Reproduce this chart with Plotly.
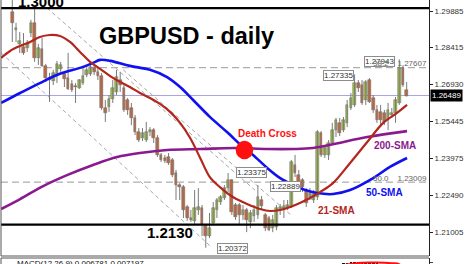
import plotly.graph_objects as go

# ---------------- data ----------------
opens = [1.2985, 1.2912, 1.2856, 1.2844, 1.2840, 1.2900, 1.2941, 1.2800, 1.2836, 1.2768,
         1.2719, 1.2707, 1.2727, 1.2756, 1.2736, 1.2719, 1.2695, 1.2687, 1.2679, 1.2699,
         1.2731, 1.2736, 1.2760, 1.2744, 1.2727, 1.2599, 1.2603, 1.2635, 1.2663, 1.2711,
         1.2679, 1.2631, 1.2599, 1.2559, 1.2502, 1.2478, 1.2470, 1.2502, 1.2510, 1.2478,
         1.2410, 1.2398, 1.2402, 1.2390, 1.2338, 1.2289, 1.2281, 1.2201, 1.2157, 1.2145,
         1.2189, 1.2197, 1.2124, 1.2084, 1.2137, 1.2189, 1.2221, 1.2237, 1.2277, 1.2309,
         1.2209, 1.2209, 1.2169, 1.2189, 1.2141, 1.2165, 1.2169, 1.2229, 1.2169, 1.2157,
         1.2116, 1.2120, 1.2189, 1.2197, 1.2201, 1.2201, 1.2370, 1.2329, 1.2309, 1.2269,
         1.2241, 1.2229, 1.2241, 1.2498, 1.2410, 1.2410, 1.2458, 1.2510, 1.2539, 1.2510,
         1.2539, 1.2599, 1.2611, 1.2699, 1.2691, 1.2631, 1.2711, 1.2639, 1.2591, 1.2583,
         1.2579, 1.2551, 1.2571, 1.2579, 1.2619, 1.2760, 1.2671]
highs = [1.3049, 1.2941, 1.2904, 1.2900, 1.2872, 1.2953, 1.3001, 1.2856, 1.2880, 1.2776,
         1.2740, 1.2752, 1.2788, 1.2784, 1.2744, 1.2820, 1.2711, 1.2699, 1.2715, 1.2760,
         1.2768, 1.2772, 1.2768, 1.2760, 1.2740, 1.2631, 1.2651, 1.2711, 1.2752, 1.2744,
         1.2691, 1.2639, 1.2619, 1.2571, 1.2518, 1.2518, 1.2543, 1.2522, 1.2518, 1.2490,
         1.2418, 1.2410, 1.2418, 1.2398, 1.2350, 1.2297, 1.2289, 1.2209, 1.2189, 1.2269,
         1.2277, 1.2209, 1.2133, 1.2177, 1.2221, 1.2237, 1.2249, 1.2289, 1.23375, 1.2312,
         1.2217, 1.2217, 1.2209, 1.2197, 1.2189, 1.2209, 1.22889, 1.2245, 1.2177, 1.2165,
         1.2169, 1.2209, 1.2213, 1.2229, 1.2229, 1.2390, 1.2410, 1.2350, 1.2317, 1.2277,
         1.2277, 1.2269, 1.2510, 1.2506, 1.2450, 1.2470, 1.2539, 1.2559, 1.2559, 1.2563,
         1.2631, 1.2659, 1.27335, 1.2711, 1.2711, 1.2711, 1.2719, 1.2651, 1.2611, 1.2611,
         1.2591, 1.2619, 1.2599, 1.2643, 1.27943, 1.2768, 1.2703]
lows = [1.2864, 1.2864, 1.2820, 1.2812, 1.2824, 1.2884, 1.2784, 1.2772, 1.2764, 1.2703,
        1.2623, 1.2691, 1.2699, 1.2744, 1.2683, 1.2671, 1.2663, 1.2619, 1.2675, 1.2691,
        1.2723, 1.2727, 1.2731, 1.2711, 1.2591, 1.2543, 1.2583, 1.2619, 1.2651, 1.2663,
        1.2583, 1.2571, 1.2530, 1.2490, 1.2462, 1.2466, 1.2462, 1.2486, 1.2458, 1.2402,
        1.2382, 1.2378, 1.2370, 1.2321, 1.2229, 1.2229, 1.2157, 1.2145, 1.2141, 1.2133,
        1.2169, 1.2084, 1.20372, 1.2076, 1.2128, 1.2157, 1.2209, 1.2229, 1.2261, 1.2169,
        1.2149, 1.2133, 1.2149, 1.2100, 1.2116, 1.2141, 1.2153, 1.2189, 1.2104, 1.2104,
        1.2100, 1.2108, 1.2169, 1.2157, 1.2189, 1.2197, 1.2321, 1.2269, 1.2261, 1.2201,
        1.2229, 1.2217, 1.2229, 1.2402, 1.2398, 1.2390, 1.2450, 1.2482, 1.2486, 1.2502,
        1.2522, 1.2591, 1.2603, 1.2663, 1.2611, 1.2611, 1.2619, 1.2579, 1.2539, 1.2522,
        1.2530, 1.2510, 1.2559, 1.2539, 1.2611, 1.2683, 1.2645]
closes = [1.2941, 1.2920, 1.2868, 1.2820, 1.2856, 1.2941, 1.2800, 1.2840, 1.2768, 1.2719,
          1.2711, 1.2740, 1.2776, 1.2772, 1.2715, 1.2675, 1.2671, 1.2683, 1.2711, 1.2727,
          1.2752, 1.2764, 1.2744, 1.2727, 1.2599, 1.2579, 1.2635, 1.2679, 1.2723, 1.2691,
          1.2591, 1.2591, 1.2559, 1.2502, 1.2470, 1.2498, 1.2502, 1.2510, 1.2478, 1.2410,
          1.2390, 1.2386, 1.2378, 1.2329, 1.2289, 1.2281, 1.2189, 1.2157, 1.2149, 1.2197,
          1.2201, 1.2128, 1.2084, 1.2116, 1.2197, 1.2229, 1.2241, 1.2277, 1.2309, 1.2181,
          1.2161, 1.2169, 1.2189, 1.2149, 1.2177, 1.2189, 1.2241, 1.2205, 1.2116, 1.2108,
          1.2149, 1.2197, 1.2201, 1.2205, 1.2209, 1.2382, 1.2338, 1.2297, 1.2281, 1.2217,
          1.2257, 1.2253, 1.2502, 1.2410, 1.2438, 1.2458, 1.2510, 1.2551, 1.2498, 1.2551,
          1.2611, 1.2639, 1.2699, 1.2679, 1.2619, 1.2703, 1.2623, 1.2591, 1.2551, 1.2551,
          1.2543, 1.2591, 1.2579, 1.2631, 1.2760, 1.2691, 1.26489]

# moving averages (sampled at bar positions)
sma21_x = [-3.0, -0.6, 2.1, 4.8, 7.4, 10.1, 12.8, 15.5, 18.2, 20.9, 23.6, 26.3, 29.0, 31.6,
           34.3, 37.0, 39.7, 42.4, 45.1, 47.8, 50.5, 53.1, 55.8, 59.3, 63.1, 66.6, 69.3,
           72.0, 74.7, 77.3, 80.0, 82.7, 86.2, 90.8, 95.4, 99.7, 103.4, 106.1]
sma21_y = [1.2800, 1.2828, 1.2848, 1.2864, 1.2884, 1.2892, 1.2888, 1.2864, 1.2824, 1.2784,
           1.2756, 1.2727, 1.2703, 1.2683, 1.2659, 1.2639, 1.2615, 1.2583, 1.2539, 1.2478,
           1.2398, 1.2321, 1.2281, 1.2241, 1.2213, 1.2193, 1.2185, 1.2189, 1.2201, 1.2217,
           1.2237, 1.2261, 1.2297, 1.2378, 1.2462, 1.2539, 1.2579, 1.2611]
sma50_x = [-3.0, 2.1, 7.4, 12.8, 18.2, 21.7, 23.6, 26.3, 31.6, 37.0, 41.6, 45.1, 48.6, 53.1,
           57.7, 62.3, 64.7, 68.5, 72.0, 75.5, 78.7, 81.9, 86.2, 90.8, 97.0, 101.5, 106.1]
sma50_y = [1.2619, 1.2659, 1.2699, 1.2736, 1.2760, 1.2780, 1.2792, 1.2788, 1.2768, 1.2752,
           1.2723, 1.2683, 1.2631, 1.2563, 1.2502, 1.2438, 1.2410, 1.2358, 1.2317, 1.2289,
           1.2269, 1.2257, 1.2253, 1.2269, 1.2317, 1.2362, 1.2398]
sma200_x = [-3.0, 2.1, 8.3, 14.7, 21.7, 28.2, 34.3, 41.6, 50.5, 59.6, 68.5, 75.5, 80.8, 86.5,
            95.4, 106.1]
sma200_y = [1.2193, 1.2233, 1.2285, 1.2329, 1.2370, 1.2402, 1.2418, 1.2430, 1.2434, 1.2438,
            1.2434, 1.2434, 1.2438, 1.2454, 1.2482, 1.2506]

# MACD sub-window (only its top edge is visible)
macd_x = list(range(84, 107))
macd_hist = [0.0112, 0.0116, 0.0120, 0.0123, 0.0126, 0.0129, 0.0132, 0.0134, 0.0136, 0.0135,
             0.0134, 0.0135, 0.0133, 0.0131, 0.0129, 0.0126, 0.0122, 0.0118, 0.0112, 0.0105,
             0.0098, 0.0085, 0.006781]
macd_sig_x = [88, 90, 92, 94, 96, 98, 100, 102, 104, 106]
macd_sig = [0.0120, 0.0125, 0.0129, 0.0132, 0.0133, 0.0133, 0.0132, 0.0130, 0.0126, 0.007197]

# levels, labels, trendlines
level_support = 1.2130
level_resist = 1.3000
fib382 = 1.27607
fib500 = 1.23009
last_price = 1.26489
swing_labels = [(87.8, 1.27303, "1.27335"), (98.6, 1.27858, "1.27943"),
                (64.4, 1.23396, "1.23375"), (73.3, 1.22853, "1.22889"),
                (59.3, 1.20340, "1.20372")]
trendlines = [((9.3, 1.3001), (65.2, 1.2269)),
              ((-3.0, 1.2820), (53.5, 1.2040)),
              ((29.8, 1.2752), (75.2, 1.2165))]
death_cross = (62.4, 1.2430)
ytick_vals = [1.29885, 1.28415, 1.26930, 1.25445, 1.23975, 1.22490, 1.21005]

# ---------------- figure ----------------
W, H = 468, 264
FONT = "Liberation Sans, Arial, sans-serif"
idx = list(range(len(opens)))
bull = [c >= o for o, c in zip(opens, closes)]

wx, wy = [], []
for i, lo, hi in zip(idx, lows, highs):
    wx += [i, i, None]
    wy += [lo, hi, None]

fig = go.Figure()
fig.add_trace(go.Scatter(x=wx, y=wy, mode="lines", line=dict(color="#7a7a7a", width=1),
                         hoverinfo="skip", showlegend=False))
fig.add_trace(go.Bar(x=idx, y=[abs(c - o) for o, c in zip(opens, closes)],
                     base=[min(o, c) for o, c in zip(opens, closes)], width=0.72,
                     marker=dict(color=["#a2c63c" if b else "#e2642c" for b in bull],
                                 line=dict(color="#5c5c5c", width=0.5)),
                     showlegend=False))
fig.add_trace(go.Scatter(x=sma200_x, y=sma200_y, mode="lines", line=dict(color="#8a1a8e", width=2.6, shape="spline"),
                         showlegend=False))
fig.add_trace(go.Scatter(x=sma50_x, y=sma50_y, mode="lines", line=dict(color="#1010f0", width=2.6, shape="spline"),
                         showlegend=False))
fig.add_trace(go.Scatter(x=sma21_x, y=sma21_y, mode="lines", line=dict(color="#b3261e", width=2.2, shape="spline"),
                         showlegend=False))
# MACD panel
fig.add_trace(go.Bar(x=macd_x, y=macd_hist, width=0.7, marker=dict(color="#111111", line=dict(width=0)),
                     xaxis="x2", yaxis="y2", showlegend=False))
fig.add_trace(go.Scatter(x=macd_sig_x, y=macd_sig, mode="lines", line=dict(color="#ff1010", width=2, shape="spline"),
                         xaxis="x2", yaxis="y2", showlegend=False))

main_bottom = 8 / H
macd_top = 6 / H
xr = [-3.04, 112.0]

shapes = []
for (x0, y0), (x1, y1) in trendlines:
    shapes.append(dict(type="line", xref="x", yref="y", x0=x0, y0=y0, x1=x1, y1=y1,
                       line=dict(color="#a8a8a8", width=1, dash="4px,3px"), layer="below"))
for lv in (fib382, fib500):
    shapes.append(dict(type="line", xref="paper", yref="y", x0=0, x1=1, y0=lv, y1=lv,
                       line=dict(color="#9a9a9a", width=1, dash="7px,4px"), layer="below"))
shapes.append(dict(type="line", xref="paper", yref="y", x0=0, x1=1, y0=last_price, y1=last_price,
                   line=dict(color="#a6a6e6", width=1), layer="below"))
for lv in (level_resist, level_support):
    shapes.append(dict(type="line", xref="paper", yref="y", x0=0, x1=1, y0=lv, y1=lv,
                       line=dict(color="#000000", width=2.2)))
shapes.append(dict(type="circle", xref="x", yref="y", xsizemode="pixel", ysizemode="pixel",
                   xanchor=death_cross[0], yanchor=death_cross[1], x0=-8.8, x1=8.8, y0=-9.2, y1=9.2,
                   fillcolor="#ff1010", line=dict(color="#ff1010", width=0)))
# panel borders
shapes.append(dict(type="line", xref="paper", yref="paper", x0=0, x1=0, y0=main_bottom, y1=1,
                   line=dict(color="#555555", width=1)))
shapes.append(dict(type="line", xref="paper", yref="paper", x0=0, x1=1, y0=main_bottom, y1=main_bottom,
                   line=dict(color="#555555", width=1)))
shapes.append(dict(type="line", xref="paper", yref="paper", x0=0, x1=1, y0=macd_top, y1=macd_top,
                   line=dict(color="#555555", width=1)))
shapes.append(dict(type="line", xref="paper", yref="paper", x0=0, x1=0, y0=0, y1=macd_top,
                   line=dict(color="#555555", width=1)))

ann = []
def txt(x, y, s, size, color="#000000", **kw):
    d = dict(x=x, y=y, xref="x", yref="y", text=s, showarrow=False,
             font=dict(family=FONT, size=size, color=color))
    d.update(kw)
    ann.append(d)

txt(7.6, 1.30263, "<b>1.3000</b>", 15)
txt(42.4, 1.20983, "<b>1.2130</b>", 15)
txt(46.7, 1.28863, "<b>GBPUSD - daily</b>", 23.5)
txt(68.7, 1.24963, "<b>Death Cross</b>", 10, "#ff1010")
txt(102.9, 1.24501, "<b>200-SMA</b>", 10, "#8a1a8e")
txt(100.1, 1.22592, "<b>50-SMA</b>", 10, "#1010f0")
txt(87.2, 1.21868, "<b>21-SMA</b>", 10, "#b3261e")
for sx, sy, s in swing_labels:
    txt(sx, sy, s, 8, "#333333", bgcolor="#ffffff", bordercolor="#8c8c8c", borderwidth=1, borderpad=0)
ann.append(dict(x=1, y=1.27757, xref="paper", yref="y", xanchor="right", showarrow=False,
                text="38.2\u00a0\u00a0\u00a0\u00a01.27607", font=dict(family=FONT, size=8, color="#666666")))
ann.append(dict(x=1, y=1.23174, xref="paper", yref="y", xanchor="right", showarrow=False,
                text="50.0\u00a0\u00a0\u00a0\u00a01.23009", font=dict(family=FONT, size=8, color="#666666")))
ann.append(dict(x=1, y=last_price, xref="paper", yref="y", xanchor="left", xshift=1, showarrow=False,
                text="1.26489", bgcolor="#000000", borderpad=1,
                font=dict(family=FONT, size=8, color="#ffffff")))
ann.append(dict(x=14 / 428, y=1 / H, xref="paper", yref="paper", xanchor="left", yanchor="middle",
                showarrow=False, text="MACD(12,26,9) 0.006781 0.007197",
                font=dict(family=FONT, size=8, color="#111111")))

fig.update_layout(
    width=W, height=H, margin=dict(l=1, r=39, t=0, b=0),
    paper_bgcolor="#ffffff", plot_bgcolor="#ffffff",
    barmode="overlay", bargap=0, showlegend=False,
    font=dict(family=FONT, size=8, color="#222222"),
    xaxis=dict(domain=[0, 1], range=xr, visible=False, fixedrange=True),
    yaxis=dict(domain=[main_bottom, 1], range=[1.20041, 1.30327], side="right",
               tickvals=ytick_vals, ticktext=["%.5f" % v for v in ytick_vals],
               showgrid=False, zeroline=False, showline=True, linecolor="#222222", linewidth=1,
               ticks="outside", ticklen=3, tickcolor="#222222",
               tickfont=dict(family=FONT, size=8, color="#333333")),
    xaxis2=dict(domain=[0, 1], range=xr, visible=False, anchor="y2"),
    yaxis2=dict(domain=[0, macd_top], range=[0.012679, 0.015079], side="right", anchor="x2",
                tickvals=[0.013479], ticktext=["0.013479"], showgrid=False, zeroline=False,
                showline=True, linecolor="#222222", linewidth=1, ticks="outside", ticklen=3,
                tickfont=dict(family=FONT, size=8, color="#333333")),
    shapes=shapes, annotations=ann,
)

fig.write_html("out.html")
